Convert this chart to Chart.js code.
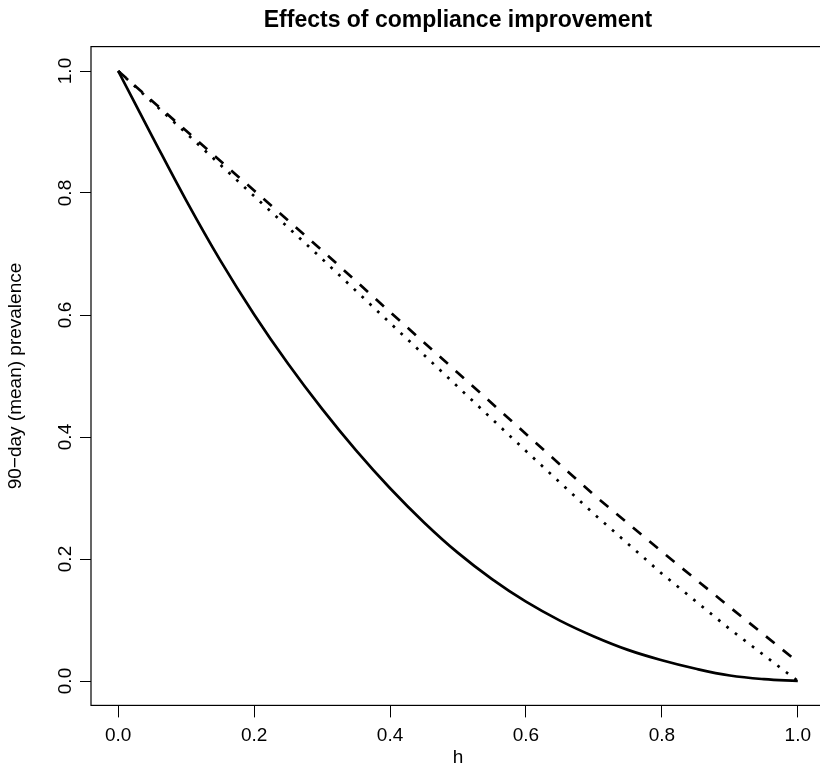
<!DOCTYPE html>
<html>
<head>
<meta charset="utf-8">
<script src="https://cdn.jsdelivr.net/npm/chart.js@4.4.0/dist/chart.umd.min.js"></script>
<style>
  html, body { margin: 0; padding: 0; overflow: hidden; background: #fff; }
  #wrap { width: 914px; height: 767px; }
</style>
</head>
<body>
<div id="wrap"><canvas id="c" width="914" height="767"></canvas></div>
<script>
// ---- data ----
const chartTitle = 'Effects of compliance improvement';
const xTitle = 'h';
const yTitle = '90\u2212day (mean) prevalence';
const xTicks = [0, 0.2, 0.4, 0.6, 0.8, 1.0];
const yTicks = [0, 0.2, 0.4, 0.6, 0.8, 1.0];
const xTickLabels = ['0.0', '0.2', '0.4', '0.6', '0.8', '1.0'];
const yTickLabels = ['0.0', '0.2', '0.4', '0.6', '0.8', '1.0'];

const hSolid = [0, 0.05, 0.10, 0.15, 0.20, 0.25, 0.30, 0.35, 0.40, 0.45, 0.50,
                0.55, 0.60, 0.65, 0.70, 0.75, 0.80, 0.85, 0.90, 0.95, 1.00];
const solidValues = [1.000, 0.893, 0.788, 0.690, 0.601, 0.520, 0.446, 0.378, 0.316, 0.260, 0.210,
                     0.167, 0.130, 0.099, 0.073, 0.051, 0.034, 0.020, 0.009, 0.003, 0.000];

const hLines = [0, 0.1, 0.2, 0.3, 0.4, 0.5, 0.6, 0.7, 0.8, 0.9, 1.0];
const dashedValues = [1.000, 0.902, 0.804, 0.706, 0.605, 0.505, 0.405, 0.305, 0.212, 0.121, 0.031];
const dottedValues = [1.000, 0.898, 0.795, 0.692, 0.587, 0.482, 0.377, 0.274, 0.176, 0.085, 0.000];

// ---- chart ----
const FONT = "'Liberation Sans', Arial, Helvetica, sans-serif";
Chart.defaults.font.family = FONT;
Chart.defaults.color = '#000';

const toPts = (xs, ys) => xs.map((x, i) => ({ x: x, y: ys[i] }));

const boxPlugin = {
  id: 'rbox',
  afterDraw(chart) {
    const { ctx, chartArea: a } = chart;
    ctx.save();
    ctx.strokeStyle = '#000';
    ctx.lineWidth = 1.2;
    ctx.strokeRect(a.left, a.top, a.right - a.left, a.bottom - a.top);
    // rotated y tick labels (R style, las=0)
    const ys = chart.scales.y;
    ctx.font = '19px ' + FONT;
    ctx.fillStyle = '#000';
    ctx.textAlign = 'center';
    ctx.textBaseline = 'middle';
    ys.ticks.forEach((t, i) => {
      const py = ys.getPixelForValue(t.value);
      ctx.save();
      ctx.translate(66, py);
      ctx.rotate(-Math.PI / 2);
      ctx.fillText(yTickLabels[i], 0, 0);
      ctx.restore();
    });
    ctx.restore();
  }
};

new Chart(document.getElementById('c'), {
  type: 'scatter',
  data: {
    datasets: [
      {
        data: toPts(hSolid, solidValues),
        showLine: true, borderColor: '#000', borderWidth: 2.7,
        pointRadius: 0, tension: 0.4
      },
      {
        data: toPts(hLines, dashedValues),
        showLine: true, borderColor: '#000', borderWidth: 2.7,
        borderDash: [11, 10.5], pointRadius: 0, tension: 0
      },
      {
        data: toPts(hLines, dottedValues),
        showLine: true, borderColor: '#000', borderWidth: 2.7,
        borderDash: [2.7, 8], pointRadius: 0, tension: 0
      }
    ]
  },
  options: {
    responsive: false,
    animation: false,
    devicePixelRatio: 1,
    layout: { padding: { left: 0, right: 89, top: 0, bottom: 0 } },
    plugins: {
      legend: { display: false },
      tooltip: { enabled: false },
      title: {
        display: true,
        fullSize: false,
        text: chartTitle,
        font: { size: 23, weight: 'bold', family: FONT, lineHeight: 1.2 },
        color: '#000',
        padding: { top: 7, bottom: 12 }
      }
    },
    scales: {
      x: {
        type: 'linear',
        min: -0.04, max: 1.04,
        afterBuildTicks: s => { s.ticks = xTicks.map(v => ({ value: v })); },
        afterFit: s => { s.height = 61.6; },
        grid: { display: true, drawOnChartArea: false, drawTicks: true, tickLength: 12, color: '#000', lineWidth: 1 },
        border: { display: false },
        ticks: {
          padding: 7,
          font: { size: 19, family: FONT },
          color: '#000',
          maxRotation: 0, minRotation: 0, autoSkip: false,
          callback: (v, i) => xTickLabels[i]
        },
        title: {
          display: true, text: xTitle, color: '#000',
          font: { size: 19, family: FONT, lineHeight: 1 },
          padding: { top: 0, bottom: 0 }
        }
      },
      y: {
        type: 'linear',
        min: -0.04, max: 1.04,
        afterBuildTicks: s => { s.ticks = yTicks.map(v => ({ value: v })); },
        afterFit: s => { s.width = 91; },
        grid: { display: true, drawOnChartArea: false, drawTicks: true, tickLength: 11, color: '#000', lineWidth: 1 },
        border: { display: false },
        ticks: { display: false },
        title: {
          display: true, text: yTitle, color: '#000',
          font: { size: 19, family: FONT, lineHeight: 1 },
          padding: { top: 6, bottom: 0 }
        }
      }
    }
  },
  plugins: [boxPlugin]
});
</script>
</body>
</html>
